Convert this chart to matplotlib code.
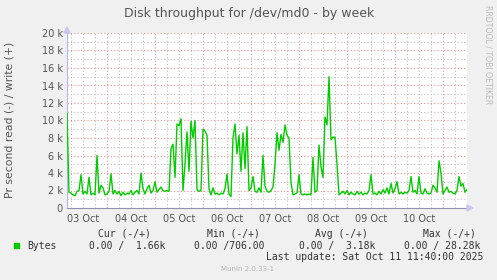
import matplotlib
matplotlib.use("Agg")
import matplotlib.pyplot as plt
from matplotlib.ticker import FixedLocator, FuncFormatter, MultipleLocator

# hours since 03 Oct 00:00, one sample per hour (04:00 on 03 Oct -> 12:00 on 11 Oct)
start_hour = 4
write_k = [
    10.8, 1.8, 1.7, 1.5, 1.4, 1.9, 2.0, 3.8, 1.6, 1.9,
    1.6, 3.5, 1.5, 1.7, 1.5, 6.0, 1.7, 2.6, 2.3, 1.5,
    1.6, 1.9, 3.9, 1.6, 2.0, 1.6, 1.9, 1.4, 1.8, 1.5,
    1.7, 1.6, 2.0, 1.5, 1.8, 2.0, 1.6, 4.0, 2.2, 1.6,
    2.2, 2.6, 1.7, 2.0, 3.0, 1.8, 2.1, 2.4, 2.0, 1.9,
    2.0, 1.9, 6.8, 7.3, 3.5, 9.6, 9.4, 10.2, 2.0, 5.0,
    8.7, 4.2, 9.9, 8.0, 10.0, 2.1, 1.9, 2.0, 9.0, 8.8,
    8.3, 2.2, 1.5, 2.3, 1.6, 1.7, 1.5, 1.7, 1.6, 2.2,
    3.9, 1.6, 1.3, 8.0, 9.6, 6.2, 8.3, 4.2, 8.6, 4.5,
    9.3, 2.0, 2.3, 3.6, 1.9, 1.8, 2.3, 1.8, 6.0, 2.5,
    1.9, 1.8, 2.0, 2.4, 5.0, 8.6, 6.6, 8.4, 7.5, 9.5,
    8.3, 8.0, 2.9, 1.5, 1.6, 1.7, 3.8, 1.6, 1.5, 1.6,
    1.5, 1.6, 1.5, 5.8, 1.8, 2.0, 7.2, 4.7, 3.5, 10.4,
    9.5, 15.0, 7.8, 8.1, 8.1, 5.0, 1.5, 1.7, 1.9, 1.6,
    2.0, 1.5, 1.8, 1.6, 1.5, 1.9, 1.6, 1.8, 1.5, 1.7,
    1.6, 2.0, 3.8, 1.6, 1.7, 1.5, 1.9, 1.6, 2.1, 1.7,
    2.3, 1.6, 2.8, 1.7, 2.2, 3.0, 1.6, 1.8, 1.6, 1.8,
    1.7, 2.0, 3.6, 1.8, 2.0, 1.6, 3.6, 1.7, 1.6, 2.2,
    1.7, 1.6, 1.7, 2.6, 2.3, 1.8, 5.4, 4.0, 1.6, 2.0,
    2.4, 1.8, 1.9, 1.7, 1.6, 2.0, 3.6, 2.5, 2.8, 1.8,
    2.1,
]
hours = [start_hour + i for i in range(len(write_k))]
day_labels = ["03 Oct", "04 Oct", "05 Oct", "06 Oct", "07 Oct", "08 Oct", "09 Oct", "10 Oct"]
title = "Disk throughput for /dev/md0 - by week"
ylabel = "Pr second read (-) / write (+)"
legend_headers = ["Cur (-/+)", "Min (-/+)", "Avg (-/+)", "Max (-/+)"]
legend_values = ["0.00 /  1.66k", "0.00 /706.00", "0.00 /  3.18k", "0.00 / 28.28k"]

W, H = 497, 280
fig = plt.figure(figsize=(W / 100, H / 100), dpi=100, facecolor="#F0F0F0")


def fx(px):
    return px / W


def fy(py):
    return 1 - py / H


ax = fig.add_axes([fx(67), fy(208), (467 - 67) / W, (208 - 33) / H])
ax.set_facecolor("white")

ax.plot(hours, [v * 1000 for v in write_k], color="#00CC00", lw=1.0, zorder=3)

x0, x1 = start_hour, start_hour + 200
ax.set_xlim(x0, x1)
ax.set_ylim(0, 20000)

# grid: grey every 6 h / 1 k, red every day / 2 k
dots = (0, (1, 2))
for h in range(6, x1, 6):
    if h % 24:
        ax.axvline(h, color="#BEBEBE", lw=0.8, ls=dots, zorder=1)
for h in range(24, x1, 24):
    ax.axvline(h, color="#F08C8C", lw=0.8, ls=dots, zorder=1)
for v in range(1000, 20001, 1000):
    c = "#F08C8C" if v % 2000 == 0 else "#BEBEBE"
    ax.axhline(v, color=c, lw=0.8, ls=dots, zorder=1)

label_pos = [12 + 24 * i for i in range(len(day_labels))]
ax.xaxis.set_major_locator(FixedLocator(label_pos))
ax.set_xticklabels(day_labels)
ax.yaxis.set_major_locator(MultipleLocator(2000))
ax.yaxis.set_major_formatter(FuncFormatter(lambda v, p: "0" if v == 0 else "%d k" % (v / 1000)))
ax.tick_params(axis="both", which="both", length=0, labelsize=7, colors="#555555", pad=3)
ax.tick_params(axis="x", pad=4)

for s in ["top", "right"]:
    ax.spines[s].set_visible(False)
ax.spines["left"].set_color("#B8B8E0")
ax.spines["bottom"].set_color("#9090B0")
for s in ["left", "bottom"]:
    ax.spines[s].set_linewidth(0.8)

# axis arrows
fig.patches.append(plt.Polygon([[fx(64), fy(33)], [fx(70), fy(33)], [fx(67), fy(27)]],
                               closed=True, color="#C8C8F0", transform=fig.transFigure, figure=fig))
fig.patches.append(plt.Polygon([[fx(467), fy(205)], [fx(467), fy(211)], [fx(473), fy(208)]],
                               closed=True, color="#C8C8F0", transform=fig.transFigure, figure=fig))

fig.text(fx(249), fy(13), title, ha="center", va="center", fontsize=9, color="#555555")
fig.text(fx(10), fy(120), ylabel, rotation=90, ha="center", va="center", fontsize=7.8, color="#555555")
fig.text(fx(488), fy(5), "RRDTOOL / TOBI OETIKER", rotation=270, ha="center", va="top",
         fontsize=5.6, color="#BBBBBB")

mono = "DejaVu Sans Mono"
fig.patches.append(plt.Rectangle((fx(14), fy(248)), 5 / W, 5 / H, color="#00CC00",
                                 transform=fig.transFigure, figure=fig))
fig.text(fx(27), fy(246), "Bytes", ha="left", va="center", fontsize=7, family=mono, color="#333333")
header_left = [98, 207, 315, 423]
value_left = [89, 194, 299, 404]
for i in range(4):
    fig.text(fx(header_left[i]), fy(234), legend_headers[i], ha="left", va="center",
             fontsize=7, family=mono, color="#333333")
    fig.text(fx(value_left[i]), fy(246), legend_values[i], ha="left", va="center",
             fontsize=7, family=mono, color="#333333")
fig.text(fx(483), fy(257), "Last update: Sat Oct 11 11:40:00 2025", ha="right", va="center",
         fontsize=7, family=mono, color="#333333")
fig.text(fx(248), fy(269), "Munin 2.0.33-1", ha="center", va="center", fontsize=5, color="#B5B5B5")

fig.savefig("out.png", dpi=100, facecolor=fig.get_facecolor())
